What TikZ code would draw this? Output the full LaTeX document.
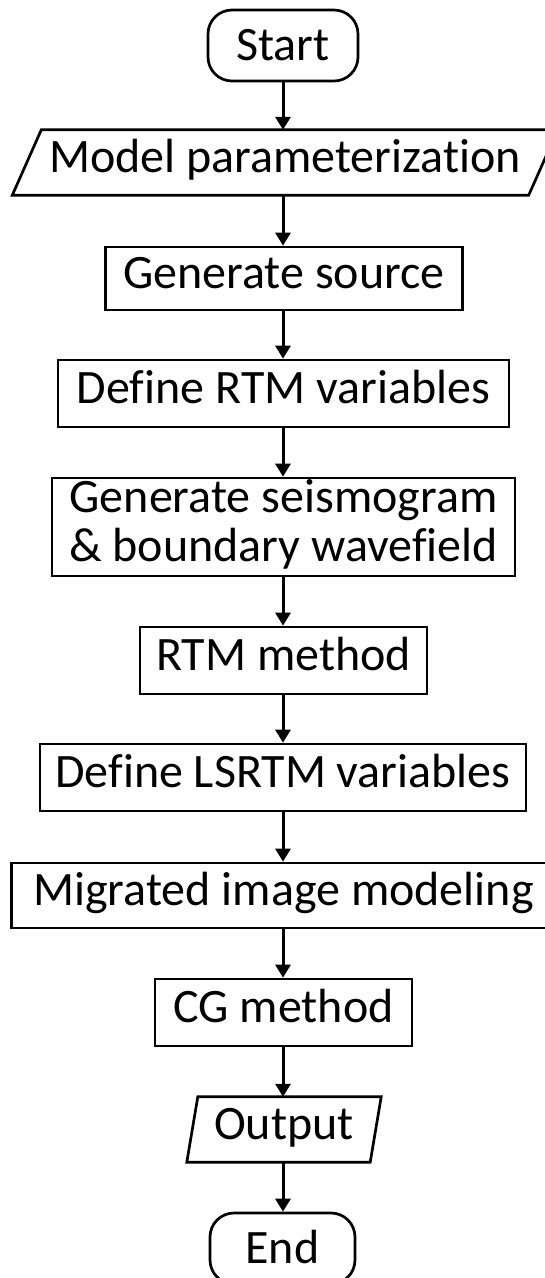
\documentclass[tikz,border=0pt]{standalone}
\usepackage{fontspec}
\setmainfont{Carlito}[Ligatures=NoCommon]
\usetikzlibrary{arrows.meta}
\begin{document}
\begin{tikzpicture}[x=1pt,y=-1pt,
  lbl/.style={inner sep=0pt, text height=33pt, text depth=14pt,
    font=\fontsize{48}{49}\selectfont},
  box/.style={lbl, draw, line width=2.7pt},
  term/.style={box, rounded corners=24pt, text height=40pt, text depth=11pt},
  flow/.style={line width=3pt, -{Triangle[length=13pt,width=15pt]}},
  io/.style={line width=2.7pt, line join=miter}]

% page area, white, with everything outside it cut away
\fill[white] (0,0) rectangle (545,1278);
\useasboundingbox (0,0) rectangle (545,1278);
\clip (0,0) rectangle (545,1278);

% process steps
\node[term, minimum width=150pt, minimum height=71pt] (start) at (283,45.5) {Start};
\node[lbl, minimum width=516pt, minimum height=65pt] (param) at (285,162.5) {Model parameterization};
\node[box, minimum width=357pt, minimum height=63pt] (source) at (284,278.5) {Generate source};
\node[box, minimum width=451pt, minimum height=67pt] (rtmvar) at (283.5,393.5) {Define RTM variables};
\node[box, minimum width=463pt, minimum height=98pt, align=center,
  text height=82pt, text depth=14pt] (seis) at (283.5,527)
  {Generate seismogram\\\& boundary wavefield};
\node[box, minimum width=287pt, minimum height=67pt] (rtm) at (283.5,660.5) {RTM method};
\node[box, minimum width=486pt, minimum height=67pt] (lsvar) at (283,777.5) {Define LSRTM variables};
\node[box, minimum width=544pt, minimum height=65pt] (model) at (283.5,895.5) {Migrated image modeling};
\node[box, minimum width=257pt, minimum height=67pt] (cg) at (283.5,1012.5) {CG method};
\node[lbl, minimum width=183pt, minimum height=65pt] (out) at (284,1129.5) {Output};
\node[term, minimum width=145pt, minimum height=71pt] (end) at (282.5,1248.5) {End};

% input/output parallelograms
\draw[io] ([xshift=-14.5pt]param.south west) -- ([xshift=-14.5pt]param.south east)
  -- ([xshift=14.5pt]param.north east) -- ([xshift=14.5pt]param.north west) -- cycle;
\draw[io] ([xshift=-5.5pt]out.south west) -- ([xshift=-5.5pt]out.south east)
  -- ([xshift=5.5pt]out.north east) -- ([xshift=5.5pt]out.north west) -- cycle;

% connectors
\draw[flow] (start.south) -- (start.south |- param.north);
\draw[flow] (start.south |- param.south) -- (start.south |- source.north);
\draw[flow] (start.south |- source.south) -- (start.south |- rtmvar.north);
\draw[flow] (start.south |- rtmvar.south) -- (start.south |- seis.north);
\draw[flow] (start.south |- seis.south) -- (start.south |- rtm.north);
\draw[flow] (start.south |- rtm.south) -- (start.south |- lsvar.north);
\draw[flow] (start.south |- lsvar.south) -- (start.south |- model.north);
\draw[flow] (start.south |- model.south) -- (start.south |- cg.north);
\draw[flow] (start.south |- cg.south) -- (start.south |- out.north);
\draw[flow] (start.south |- out.south) -- (start.south |- end.north);
\end{tikzpicture}
\end{document}
